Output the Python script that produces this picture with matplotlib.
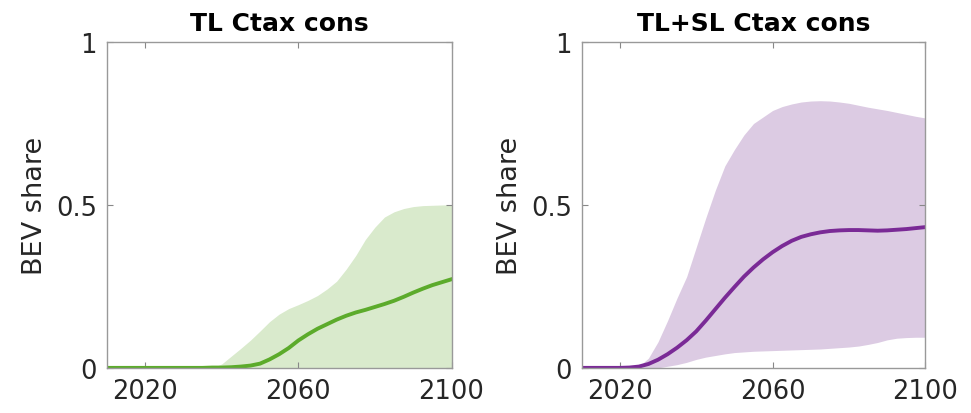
import numpy as np
import matplotlib.pyplot as plt

years = np.arange(2010, 2100.1, 2.5)

# TL Ctax cons (green)
tl_median = [0] * 11 + [0.001, 0.001, 0.002, 0.004, 0.007, 0.013, 0.026, 0.042, 0.061,
                        0.084, 0.103, 0.12, 0.134, 0.148, 0.16, 0.17, 0.178, 0.187,
                        0.196, 0.206, 0.218, 0.231, 0.243, 0.254, 0.263, 0.272]
tl_upper = [0] * 11 + [0, 0.012, 0.036, 0.06, 0.085, 0.113, 0.142, 0.165, 0.182,
                       0.194, 0.207, 0.222, 0.242, 0.266, 0.303, 0.345, 0.394, 0.432,
                       0.463, 0.479, 0.489, 0.495, 0.498, 0.499, 0.5, 0.501]
tl_lower = [0] * 37

# TL+SL Ctax cons (purple)
tlsl_median = [0, 0, 0, 0, 0, 0.001, 0.004, 0.012, 0.025, 0.042, 0.062, 0.085, 0.112,
               0.145, 0.18, 0.215, 0.248, 0.28, 0.308, 0.333, 0.355, 0.374, 0.39, 0.402,
               0.41, 0.416, 0.42, 0.422, 0.423, 0.423, 0.422, 0.421, 0.422, 0.424,
               0.426, 0.429, 0.432]
tlsl_upper = [0] * 6 + [0.004, 0.03, 0.08, 0.145, 0.215, 0.28, 0.37, 0.46, 0.545, 0.62,
                        0.67, 0.715, 0.75, 0.77, 0.79, 0.802, 0.81, 0.816, 0.819, 0.82,
                        0.819, 0.816, 0.812, 0.806, 0.80, 0.795, 0.79, 0.784, 0.778,
                        0.772, 0.767]
tlsl_lower = [0] * 9 + [0.005, 0.01, 0.017, 0.026, 0.033, 0.038, 0.043, 0.047, 0.049,
                        0.051, 0.052, 0.053, 0.054, 0.055, 0.056, 0.057, 0.058, 0.06,
                        0.062, 0.064, 0.067, 0.072, 0.078, 0.086, 0.091, 0.093, 0.094,
                        0.094]

titles = ["TL Ctax cons", "TL+SL Ctax cons"]
xticks = [2020, 2060, 2100]
yticks = [0, 0.5, 1]
yticklabels = ["0", "0.5", "1"]

fig = plt.figure(figsize=(9.71, 4.14), dpi=100)
ax1 = fig.add_axes([0.110, 0.109, 0.355, 0.787])
ax2 = fig.add_axes([0.599, 0.109, 0.354, 0.787])

panels = [(ax1, tl_median, tl_lower, tl_upper, "#5cab2b", "#d9eacc"),
          (ax2, tlsl_median, tlsl_lower, tlsl_upper, "#7a2a96", "#dccbe3")]

for i, (ax, med, lo, up, lc, fc) in enumerate(panels):
    ax.fill_between(years, lo, up, color=fc, linewidth=0)
    ax.plot(years, med, color=lc, linewidth=2.8, solid_joinstyle="round")
    ax.set_xlim(2010, 2100)
    ax.set_ylim(0, 1)
    ax.set_xticks(xticks)
    ax.set_yticks(yticks)
    ax.set_yticklabels(yticklabels)
    ax.tick_params(direction="in", length=4, color="#888888", top=True, right=True,
                   labelsize=18.5, labelcolor="#262626", pad=7)
    for s in ax.spines.values():
        s.set_color("#999999")
        s.set_linewidth(1.0)
    ax.set_ylabel("BEV share", fontsize=19.5, color="#262626", labelpad=6)
    ax.set_title(titles[i], fontsize=18, fontweight="bold", pad=9)

fig.savefig("out.png", dpi=100)
